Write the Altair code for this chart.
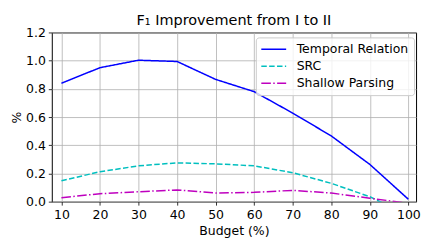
import altair as alt
import pandas as pd

budget = [10, 20, 30, 40, 50, 60, 70, 80, 90, 100]
temporal = [0.84, 0.95, 1.003, 0.994, 0.867, 0.78, 0.628, 0.466, 0.264, 0.017]
src = [0.148, 0.212, 0.254, 0.275, 0.268, 0.254, 0.205, 0.13, 0.035, -0.10]
shallow = [0.028, 0.056, 0.07, 0.083, 0.061, 0.066, 0.08, 0.061, 0.024, -0.011]

series = ["Temporal Relation", "SRC", "Shallow Parsing"]
colors = ["#0000ff", "#00bfbf", "#bf00bf"]
dashes = [[1, 0], [5.5, 2.4], [9.6, 2.4, 1.5, 2.4]]

rows = []
for name, vals in zip(series, [temporal, src, shallow]):
    for b, v in zip(budget, vals):
        rows.append({"budget": b, "value": v, "series": name})
df = pd.DataFrame(rows)

FONT = "DejaVu Sans"

leg = dict(title=None, orient="none", legendX=205, legendY=5)

chart = alt.Chart(df).mark_line(clip=True, strokeWidth=1.5).encode(
    x=alt.X("budget:Q",
            scale=alt.Scale(domain=[7.5, 102], nice=False, zero=False),
            axis=alt.Axis(values=budget, title="Budget (%)", format="d")),
    y=alt.Y("value:Q",
            scale=alt.Scale(domain=[0, 1.2], nice=False),
            axis=alt.Axis(values=[0, 0.2, 0.4, 0.6, 0.8, 1.0, 1.2], format=".1f", title="%")),
    color=alt.Color("series:N",
                    scale=alt.Scale(domain=series, range=colors),
                    legend=alt.Legend(**leg)),
    strokeDash=alt.StrokeDash("series:N",
                              scale=alt.Scale(domain=series, range=dashes),
                              legend=alt.Legend(**leg)),
).properties(
    width=366,
    height=170,
    title=alt.TitleParams("F₁ Improvement from I to II", fontSize=14.5, font=FONT,
                          fontWeight="normal", color="black", offset=6, dy=8,
                          frame="group", anchor="middle"),
    autosize=alt.AutoSizeParams(type="none"),
    padding={"left": 44, "top": 24, "right": 12, "bottom": 40},
).configure_view(
    stroke="black", strokeWidth=1
).configure_axis(
    labelFont=FONT, titleFont=FONT, labelFontSize=12.5, titleFontSize=12.5,
    labelColor="black", titleColor="black", titleFontWeight="normal",
    grid=True, gridColor="#b0b0b0", gridWidth=0.8,
    domain=False, tickColor="black", tickSize=3.5, tickWidth=0.8,
    labelPadding=3,
).configure_axisX(
    titlePadding=4,
).configure_axisY(
    titlePadding=2,
).configure_legend(
    labelFont=FONT, labelFontSize=12.5, labelColor="black",
    symbolType="M-2,0L2,0", symbolSize=156, symbolStrokeWidth=1.5,
    symbolOffset=6,
    fillColor="rgba(255,255,255,0.8)", strokeColor="#cccccc",
    cornerRadius=3, padding=5, rowPadding=3, labelOffset=16,
)

chart.save("out.html", embed_options={"renderer": "svg", "actions": False})
